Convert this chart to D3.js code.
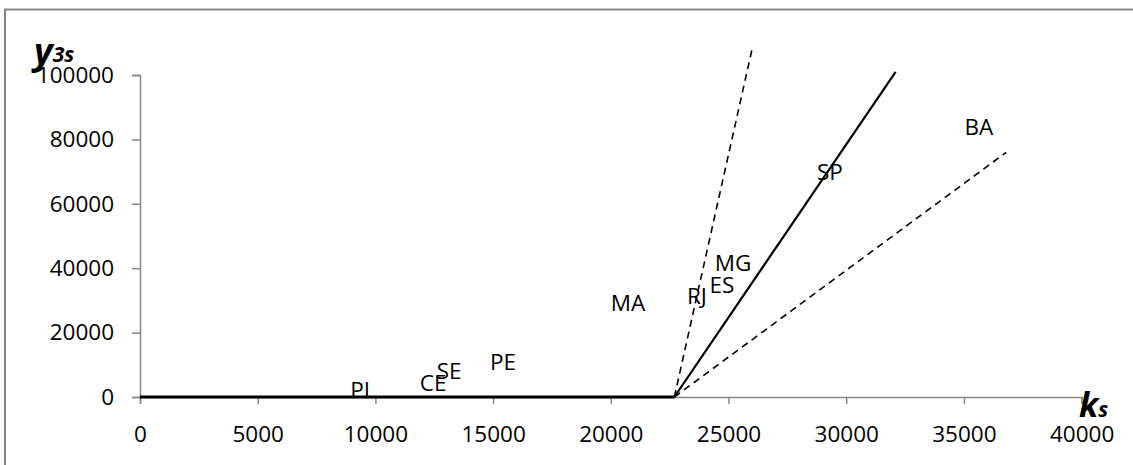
<!DOCTYPE html>
<meta charset="utf-8">
<head>
<style>
  body { margin: 0; background: #fff; }
  text { font-family: "Open Sans", sans-serif; fill: #000; }
</style>
</head>
<script src="https://d3js.org/d3.v7.min.js"></script>
<body>
<div id="my_dataviz"></div>
<script>
// axis ticks
var xTicks = [0, 5000, 10000, 15000, 20000, 25000, 30000, 35000, 40000];
var yTicks = [0, 20000, 40000, 60000, 80000, 100000];

// the lines (k, y)
var baseX = [0, 22700],      baseY = [0, 0];
var solidX = [22700, 32100], solidY = [0, 101000];
var steepX = [22700, 26000], steepY = [0, 108000];
var flatX = [22700, 36800],  flatY = [0, 76000];

// state labels
var states = ["PI", "CE", "SE", "PE", "MA", "RJ", "ES", "MG", "SP", "BA"];
var stateK = [9350, 12450, 13130, 15420, 20730, 23660, 24720, 25190, 29310, 35640];
var stateY = [2200, 4350, 8170, 10960, 29300, 31400, 34800, 41700, 70000, 83900];

var W = 1133, H = 465;

var svg = d3.select("#my_dataviz")
  .append("svg")
    .attr("width", W)
    .attr("height", H);

// outer frame
svg.append("rect")
  .attr("x", 5).attr("y", 9.5)
  .attr("width", W).attr("height", H)
  .attr("fill", "none")
  .attr("stroke", "#868686")
  .attr("stroke-width", 2);

var x = d3.scaleLinear().domain([0, 40000]).range([140, 1081.6]);
var y = d3.scaleLinear().domain([0, 100000]).range([397, 75]);

var axisCol = "#868686";
var fs = "22.5px";

// y axis
var gy = svg.append("g").attr("transform", "translate(140,0)")
  .call(d3.axisLeft(y).tickValues(yTicks).tickSize(8).tickPadding(18).tickFormat(d3.format("d")));
gy.select(".domain").attr("stroke", axisCol).attr("stroke-width", 1.5);
gy.selectAll(".tick line").attr("stroke", axisCol).attr("stroke-width", 1.5);
gy.selectAll(".tick text").style("font-size", fs).attr("fill", "#000")
  .style("font-family", "'Open Sans', sans-serif");

// x axis
var gx = svg.append("g").attr("transform", "translate(0,397)")
  .call(d3.axisBottom(x).tickValues(xTicks).tickSize(7).tickPadding(22).tickFormat(d3.format("d")));
gx.select(".domain").attr("stroke", axisCol).attr("stroke-width", 1.5);
gx.selectAll(".tick line").attr("stroke", axisCol).attr("stroke-width", 1.5);
gx.selectAll(".tick text").style("font-size", fs).attr("fill", "#000")
  .style("font-family", "'Open Sans', sans-serif");

var line = d3.line()
  .x(function(d) { return x(d[0]); })
  .y(function(d) { return y(d[1]); });

function seg(xs, ys) { return xs.map(function(v, i) { return [v, ys[i]]; }); }

svg.append("path").attr("d", line(seg(baseX, baseY)))
  .attr("fill", "none").attr("stroke", "#000").attr("stroke-width", 3);
svg.append("path").attr("d", line(seg(solidX, solidY)))
  .attr("fill", "none").attr("stroke", "#000").attr("stroke-width", 2.2);
svg.append("path").attr("d", line(seg(steepX, steepY)))
  .attr("fill", "none").attr("stroke", "#000").attr("stroke-width", 1.6)
  .attr("stroke-dasharray", "7,5");
svg.append("path").attr("d", line(seg(flatX, flatY)))
  .attr("fill", "none").attr("stroke", "#000").attr("stroke-width", 1.6)
  .attr("stroke-dasharray", "7,5");

// state labels
svg.selectAll(".lbl")
  .data(states)
  .enter().append("text")
    .attr("class", "lbl")
    .attr("x", function(d, i) { return x(stateK[i]); })
    .attr("y", function(d, i) { return y(stateY[i]); })
    .attr("text-anchor", "middle")
    .attr("dominant-baseline", "central")
    .style("font-size", fs)
    .text(function(d) { return d; });

// axis titles
var ty = svg.append("text").attr("x", 34).attr("y", 64)
  .style("font-weight", "bold").style("font-style", "italic");
ty.append("tspan").style("font-size", "36px").text("y");
ty.append("tspan").style("font-size", "21px").attr("dy", -2).text("3s");

var tk = svg.append("text").attr("x", 1079).attr("y", 417)
  .style("font-weight", "bold").style("font-style", "italic");
tk.append("tspan").style("font-size", "34px").text("k");
tk.append("tspan").style("font-size", "21px").text("s");
</script>
</body>
